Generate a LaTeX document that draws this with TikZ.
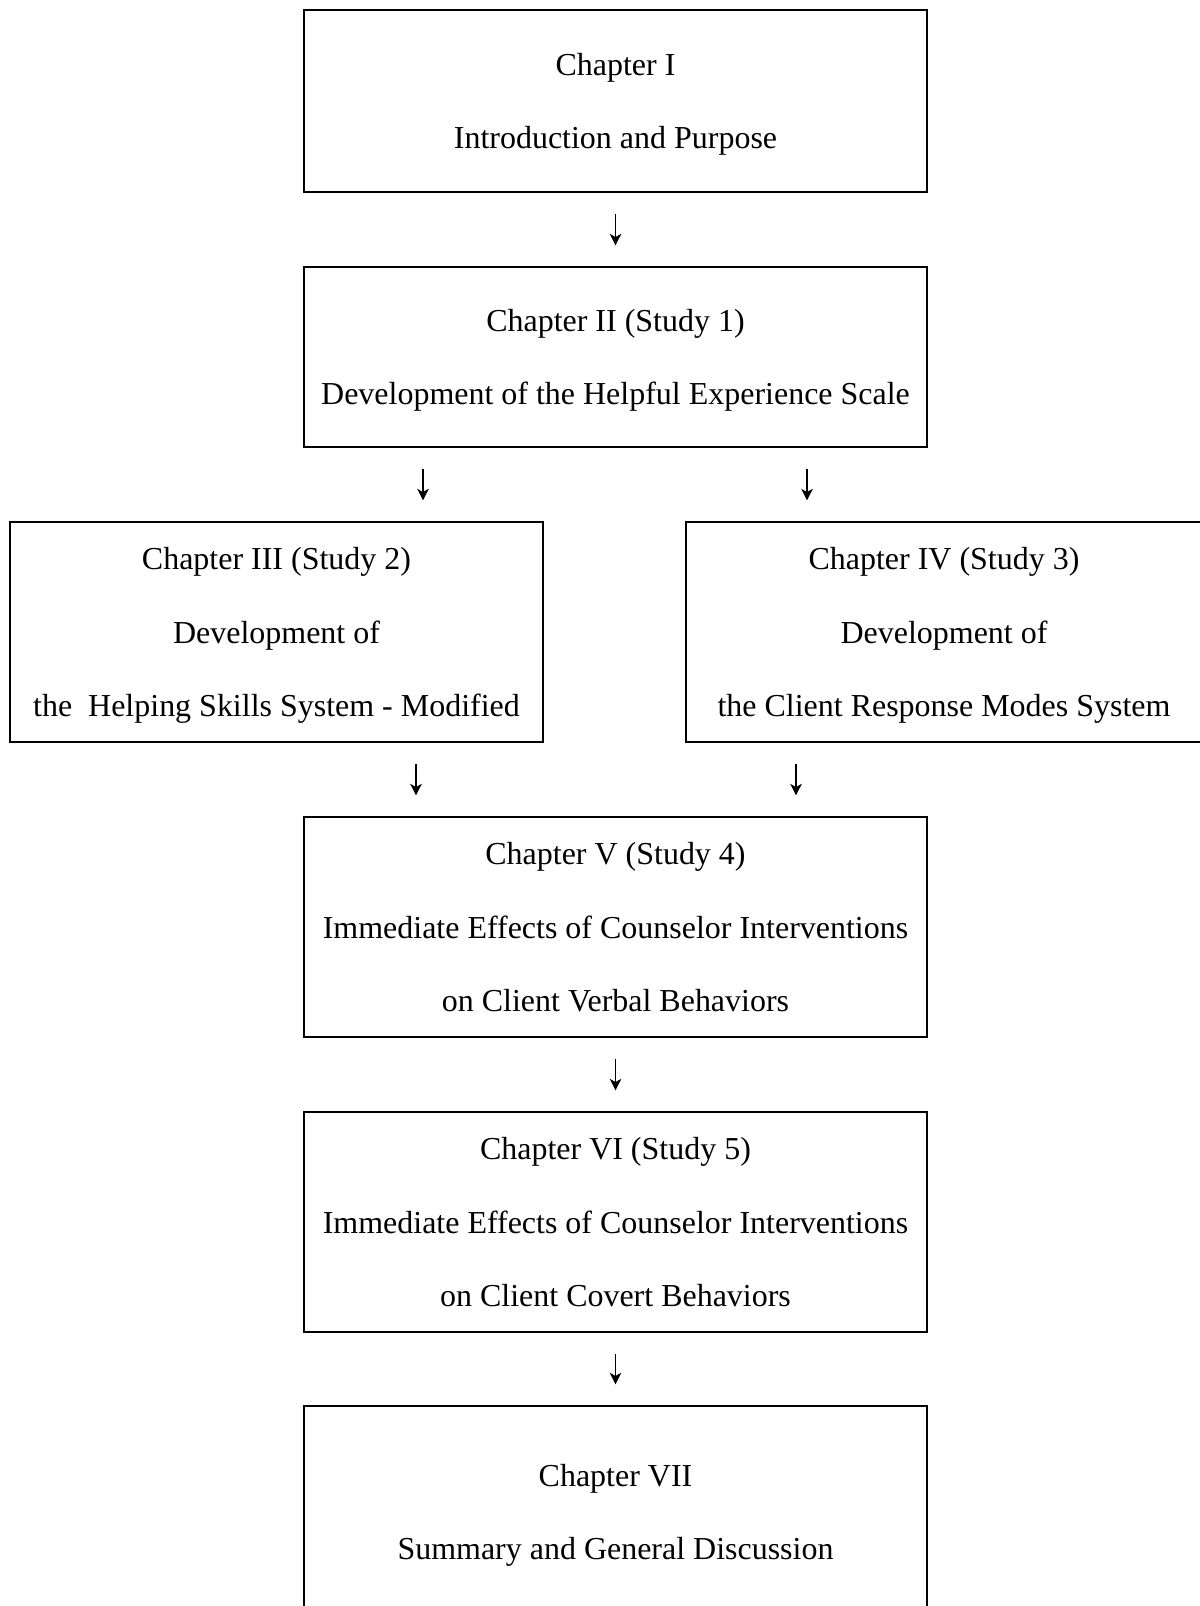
\documentclass[tikz,border=0pt]{standalone}
\usepackage{fontspec}
\setmainfont{Liberation Serif}
\usetikzlibrary{arrows.meta}

\begin{document}
\begin{tikzpicture}[
  x=0.38pt, y=-0.38pt,
  box/.style={draw, line width=0.8pt, inner sep=0pt, text depth=0pt,
              minimum width=236.7pt, minimum height=83.6pt,
              align=center, font=\fontsize{12.15}{27.8}\selectfont},
  side/.style={box, minimum width=202.5pt},
  arr/.style={-{Stealth[length=4.4pt, width=4.4pt, inset=1.2pt]},
              line width=0.5pt, shorten <=7.8pt, shorten >=7.8pt}
]
  \useasboundingbox (0,0) rectangle (1200,1606);

  \node[box, minimum height=69.2pt] (ch1) at (615.5, 101)
    {Chapter I\\Introduction and Purpose};
  \node[box, minimum height=68.4pt] (ch2) at (615.5, 357)
    {Chapter II (Study 1)\\Development of the Helpful Experience Scale};
  \node[side] (ch3) at (276.5, 632)
    {Chapter III (Study 2)\\Development of\\the\ \ Helping Skills System - Modified};
  \node[side, minimum width=196.1pt] (ch4) at (944, 632)
    {Chapter IV (Study 3)\\Development of\\the Client Response Modes System};
  \node[box] (ch5) at (615.5, 927)
    {Chapter V (Study 4)\\Immediate Effects of Counselor Interventions\\on Client Verbal Behaviors};
  \node[box] (ch6) at (615.5, 1222)
    {Chapter VI (Study 5)\\Immediate Effects of Counselor Interventions\\on Client Covert Behaviors};
  \node[box, minimum height=80.6pt] (ch7) at (615.5, 1512)
    {Chapter VII\\Summary and General Discussion};

  % x positions of the side arrows
  \coordinate (x23) at (423, 0);
  \coordinate (x24) at (807, 0);
  \coordinate (x35) at (416, 0);
  \coordinate (x45) at (796, 0);

  \draw[arr] (ch1)--(ch2);
  \draw[arr] (ch2.south -| x23)--(ch3.north -| x23);
  \draw[arr] (ch2.south -| x24)--(ch4.north -| x24);
  \draw[arr] (ch3.south -| x35)--(ch5.north -| x35);
  \draw[arr] (ch4.south -| x45)--(ch5.north -| x45);
  \draw[arr] (ch5)--(ch6);
  \draw[arr] (ch6)--(ch7);
\end{tikzpicture}
\end{document}
